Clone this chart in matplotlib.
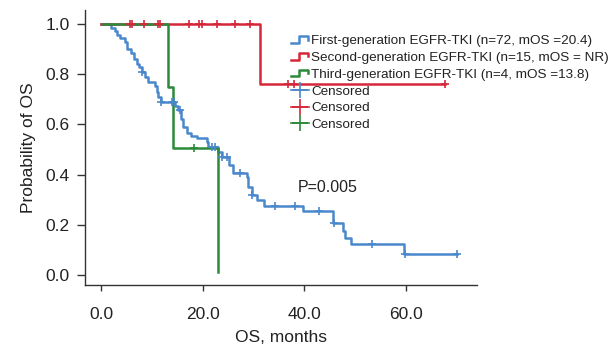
import numpy as np
import matplotlib
matplotlib.use("Agg")
import matplotlib.pyplot as plt
from matplotlib.lines import Line2D
from matplotlib.legend_handler import HandlerBase

# -----------------------------
# Data
# -----------------------------
first_t = [0.0, 1.9, 2.8, 3.1, 3.7, 4.7, 5.1, 6.0, 6.5, 7.0, 7.5, 8.0, 8.7, 9.3,
           10.6, 11.0, 11.3, 11.75, 14.5, 15.2, 15.8, 16.2, 16.9, 17.8, 18.8,
           20.8, 21.1, 23.1, 23.8, 25.1, 26.0, 28.7, 29.0, 29.7, 30.6, 32.0,
           39.7, 45.7, 47.6, 48.0, 49.2, 59.6, 70.1]
first_s = [1.0, 0.986, 0.972, 0.958, 0.944, 0.93, 0.90, 0.883, 0.86, 0.843, 0.83,
           0.81, 0.79, 0.77, 0.755, 0.73, 0.71, 0.69, 0.672, 0.657, 0.62, 0.59,
           0.565, 0.555, 0.545, 0.531, 0.511, 0.491, 0.471, 0.438, 0.405, 0.392,
           0.352, 0.319, 0.30, 0.276, 0.255, 0.206, 0.177, 0.149, 0.122, 0.085,
           0.085]
first_cens = [8.1, 11.9, 13.9, 14.3, 15.6, 21.8, 22.4, 23.9, 24.7, 27.4, 29.8,
              34.3, 38.2, 42.9, 45.9, 53.4, 59.8, 70.1]

second_t = [0.0, 31.3, 67.7]
second_s = [1.0, 0.76, 0.76]
second_cens = [5.8, 6.1, 8.4, 11.2, 11.6, 17.3, 19.3, 19.9, 22.8, 26.4, 29.3,
               36.8, 38.0, 67.7]

third_t = [0.4, 13.2, 14.2, 23.0, 23.0]
third_s = [1.0, 0.75, 0.505, 0.01, 0.01]
third_cens = [18.3]

labels = ["First-generation EGFR-TKI (n=72, mOS =20.4)",
          "Second-generation EGFR-TKI (n=15, mOS = NR)",
          "Third-generation EGFR-TKI (n=4, mOS =13.8)"]
colors = ["#4a88cc", "#d6273a", "#2b8a3a"]
p_text = "P=0.005"


def surv_at(times, surv, t):
    idx = np.searchsorted(times, t, side="right") - 1
    return np.array(surv)[idx]


class StepHandler(HandlerBase):
    def create_artists(self, legend, orig_handle, xdescent, ydescent,
                       width, height, fontsize, trans):
        lo = -ydescent + 0.15 * height
        hi = -ydescent + 0.85 * height
        xs = np.array([0, 0.45, 0.45, 0.95, 0.95]) * width - xdescent
        ys = [lo, lo, hi, hi, lo + 0.35 * height]
        ln = Line2D(xs, ys, color=orig_handle.get_color(),
                    lw=orig_handle.get_linewidth(), transform=trans)
        return [ln]


plt.rcParams["font.family"] = ["Liberation Sans", "DejaVu Sans"]

fig = plt.figure(figsize=(6.11, 3.48), dpi=100)
ax = fig.add_axes([0.139, 0.181, 0.642, 0.79])

groups = [(first_t, first_s, first_cens),
          (second_t, second_s, second_cens),
          (third_t, third_s, third_cens)]

step_handles = []
cens_handles = []
for (t, s, cens), col, lab in zip(groups, colors, labels):
    h, = ax.plot(t, s, drawstyle="steps-post", color=col, lw=1.8, label=lab)
    step_handles.append(h)
for (t, s, cens), col in zip(groups, colors):
    ax.plot(cens, surv_at(t, s, cens), ls="none", marker="+", color=col,
            ms=6, mew=1.2)
    cens_handles.append(Line2D([], [], color=col, lw=1.2, marker="+",
                               ms=12, mew=1.2))

ax.text(38.8, 0.347, p_text, fontsize=11.5, va="center", ha="left",
        color="#222222")

ax.set_xlim(-3.15, 74.0)
ax.set_ylim(-0.04, 1.056)
ax.set_xticks([0, 20, 40, 60])
ax.set_xticklabels([f"{v:.1f}" for v in [0, 20, 40, 60]])
ax.set_yticks([0, 0.2, 0.4, 0.6, 0.8, 1.0])
ax.set_yticklabels([f"{v:.1f}" for v in [0, 0.2, 0.4, 0.6, 0.8, 1.0]])
ax.tick_params(labelsize=12.5, width=1, color="#333333", labelcolor="#222222")
ax.tick_params(axis="x", length=4.5, pad=11)
ax.tick_params(axis="y", length=6, pad=5)
for side in ["top", "right"]:
    ax.spines[side].set_visible(False)
for side in ["left", "bottom"]:
    ax.spines[side].set_color("#333333")
    ax.spines[side].set_linewidth(1.0)
ax.set_xlabel("OS, months", fontsize=12.5, color="#222222", labelpad=6)
ax.set_ylabel("Probability of OS", fontsize=12.5, color="#222222", labelpad=7)

hmap = {h: StepHandler() for h in step_handles}
leg = ax.legend(step_handles + cens_handles,
                labels + ["Censored"] * 3,
                handler_map=hmap, loc="upper left",
                bbox_to_anchor=(291 / 611, 1 - 35 / 348),
                bbox_transform=fig.transFigure, frameon=False,
                fontsize=9.7, handlelength=1.35, handletextpad=0.15,
                labelspacing=0.32, borderpad=0, borderaxespad=0)
for txt in leg.get_texts():
    txt.set_color("#222222")

fig.savefig("out.png", dpi=100)
